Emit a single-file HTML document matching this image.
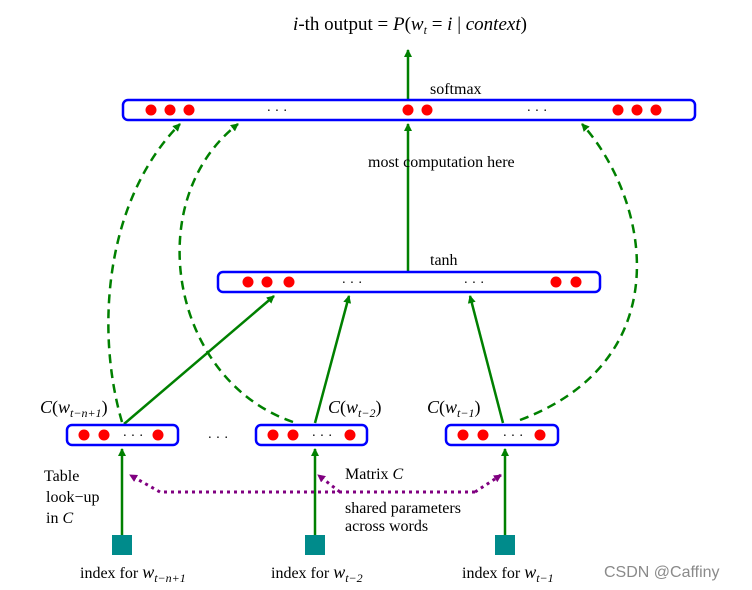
<!DOCTYPE html>
<html><head><style>body{margin:0;background:#fff}svg{display:block}text{font-family:"Liberation Serif",serif;fill:#000}</style></head><body>
<svg width="752" height="590" viewBox="0 0 752 590" xmlns="http://www.w3.org/2000/svg">
<defs>
<marker id="ag" markerWidth="8" markerHeight="10" refX="7" refY="5" orient="auto" markerUnits="userSpaceOnUse"><path d="M0,1 L8,5 L0,9 Z" fill="#008000"/></marker>
<marker id="ap" markerWidth="8" markerHeight="8" refX="7" refY="4" orient="auto" markerUnits="userSpaceOnUse"><path d="M0,0 L8,4 L0,8 Z" fill="#800080"/></marker>
</defs>
<text x="410" y="30" font-size="19" text-anchor="middle"><tspan font-style="italic">i</tspan>-th output = <tspan font-style="italic">P</tspan>(<tspan font-style="italic">w</tspan><tspan font-size="12" font-style="italic" dy="4">t</tspan><tspan dy="-4">  =  </tspan><tspan font-style="italic">i</tspan> | <tspan font-style="italic">context</tspan>)</text>
<g stroke="#008000" stroke-width="2.5" fill="none">
<line x1="408" y1="100" x2="408" y2="50" marker-end="url(#ag)"/>
<line x1="408" y1="271" x2="408" y2="124" marker-end="url(#ag)"/>
<line x1="124" y1="424" x2="274" y2="296" marker-end="url(#ag)"/>
<line x1="315" y1="423" x2="349" y2="296" marker-end="url(#ag)"/>
<line x1="503" y1="423" x2="470" y2="296" marker-end="url(#ag)"/>
<line x1="122" y1="535" x2="122" y2="449" marker-end="url(#ag)"/>
<line x1="315" y1="535" x2="315" y2="449" marker-end="url(#ag)"/>
<line x1="505" y1="535" x2="505" y2="449" marker-end="url(#ag)"/>
<g stroke-dasharray="9,6">
<path d="M122,422 C95,330 105,200 180,124" marker-end="url(#ag)"/>
<path d="M293,422 C170,380 140,200 238,124" marker-end="url(#ag)"/>
<path d="M520,420 C680,360 650,200 582,124" marker-end="url(#ag)"/>
</g>
</g>
<g stroke="#800080" stroke-width="3" stroke-dasharray="3,4" fill="none">
<path d="M475,492 L160,492 L130,475" marker-end="url(#ap)"/>
<path d="M340,492 L318,475" marker-end="url(#ap)"/>
<path d="M475,492 L501,475" marker-end="url(#ap)"/>
</g>
<g stroke="#0000ff" stroke-width="2.5" fill="#fff">
<rect x="123" y="100" width="572" height="20" rx="5"/>
<rect x="218" y="272" width="382" height="20" rx="5"/>
<rect x="67" y="425" width="111" height="20" rx="5"/>
<rect x="256" y="425" width="111" height="20" rx="5"/>
<rect x="446" y="425" width="112" height="20" rx="5"/>
</g>
<g fill="#ff0000">
<circle cx="151" cy="110" r="5.5"/><circle cx="170" cy="110" r="5.5"/><circle cx="189" cy="110" r="5.5"/>
<circle cx="408" cy="110" r="5.5"/><circle cx="427" cy="110" r="5.5"/>
<circle cx="618" cy="110" r="5.5"/><circle cx="637" cy="110" r="5.5"/><circle cx="656" cy="110" r="5.5"/>
<circle cx="248" cy="282" r="5.5"/><circle cx="267" cy="282" r="5.5"/><circle cx="289" cy="282" r="5.5"/>
<circle cx="556" cy="282" r="5.5"/><circle cx="576" cy="282" r="5.5"/>
<circle cx="84" cy="435" r="5.5"/><circle cx="104" cy="435" r="5.5"/><circle cx="158" cy="435" r="5.5"/>
<circle cx="273" cy="435" r="5.5"/><circle cx="293" cy="435" r="5.5"/><circle cx="350" cy="435" r="5.5"/>
<circle cx="463" cy="435" r="5.5"/><circle cx="483" cy="435" r="5.5"/><circle cx="540" cy="435" r="5.5"/>
</g>
<g font-size="14" text-anchor="middle">
<text x="277" y="115">· · ·</text><text x="537" y="115">· · ·</text>
<text x="352" y="287">· · ·</text><text x="474" y="287">· · ·</text>
<text x="133" y="440">· · ·</text><text x="322" y="440">· · ·</text><text x="513" y="440">· · ·</text>
<text x="218" y="442">· · ·</text>
</g>
<g fill="#008b8b">
<rect x="112" y="535" width="20" height="20"/><rect x="305" y="535" width="20" height="20"/><rect x="495" y="535" width="20" height="20"/>
</g>
<g font-size="16">
<text x="430" y="94">softmax</text>
<text x="368" y="167">most  computation here</text>
<text x="430" y="265">tanh</text>
<text x="40" y="413" font-size="18"><tspan font-style="italic">C</tspan>(<tspan font-style="italic">w</tspan><tspan font-size="12" font-style="italic" dy="4">t−n+1</tspan><tspan dy="-4">)</tspan></text>
<text x="328" y="413" font-size="18"><tspan font-style="italic">C</tspan>(<tspan font-style="italic">w</tspan><tspan font-size="12" font-style="italic" dy="4">t−2</tspan><tspan dy="-4">)</tspan></text>
<text x="427" y="413" font-size="18"><tspan font-style="italic">C</tspan>(<tspan font-style="italic">w</tspan><tspan font-size="12" font-style="italic" dy="4">t−1</tspan><tspan dy="-4">)</tspan></text>
<text x="44" y="481">Table</text>
<text x="46" y="502">look−up</text>
<text x="46" y="523">in <tspan font-style="italic">C</tspan></text>
<text x="345" y="479">Matrix <tspan font-style="italic">C</tspan></text>
<text x="345" y="513">shared parameters</text>
<text x="345" y="531">across words</text>
<text x="80" y="578">index for <tspan font-style="italic" font-size="18">w</tspan><tspan font-size="12" font-style="italic" dy="4">t−n+1</tspan></text>
<text x="271" y="578">index for <tspan font-style="italic" font-size="18">w</tspan><tspan font-size="12" font-style="italic" dy="4">t−2</tspan></text>
<text x="462" y="578">index for <tspan font-style="italic" font-size="18">w</tspan><tspan font-size="12" font-style="italic" dy="4">t−1</tspan></text>
</g>
<text x="604" y="577" font-size="16" style="font-family:'Liberation Sans',sans-serif;fill:#8a8a8a">CSDN @Caffiny</text>
</svg>
</body></html>
